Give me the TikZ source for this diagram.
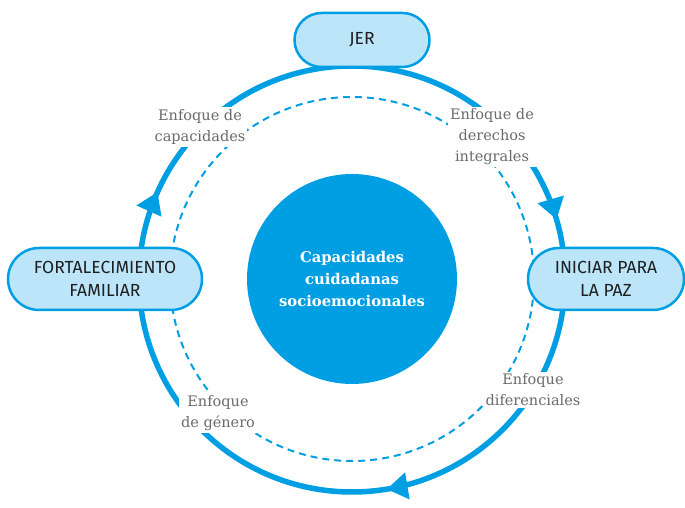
\documentclass[tikz,border=0pt]{standalone}
\usepackage{fontspec}
\setmainfont{DejaVu Serif}
\setsansfont{Fira Sans}
\usepackage{tikz}
\usetikzlibrary{arrows.meta,decorations.markings,shapes.misc}

\definecolor{cicloazul}{HTML}{009FE3}
\definecolor{cajaazul}{HTML}{BDE5FA}
\definecolor{grisenfoque}{HTML}{6A6A6A}

\begin{document}
\begin{tikzpicture}[x=1pt,y=1pt,
    caja/.style={rounded rectangle, draw=cicloazul, line width=2.5pt, fill=cajaazul,
      text=black!88, align=center, font=\sffamily\fontsize{17.5}{23}\selectfont,
      inner sep=0pt},
    enfoque/.style={fill=white, text=grisenfoque, align=center, inner sep=2pt,
      font=\fontsize{14.5}{21}\selectfont},
    ciclo/.style={draw=cicloazul, line width=5.5pt},
    guia/.style={draw=cicloazul, line width=2pt, dash pattern=on 7pt off 5pt}]
\useasboundingbox (0,0) rectangle (685,508);
\coordinate (centro) at (352,229);
  % anillo de flechas, sentido horario
  \draw[ciclo, postaction={decorate}, decoration={markings,
      mark=at position 0.205 with {\arrow{Triangle[length=21pt,width=26pt]}},
      mark=at position 0.474 with {\arrow{Triangle[length=21pt,width=26pt]}},
      mark=at position 0.817 with {\arrow{Triangle[length=21pt,width=26pt]}}}]
    (centro) ++(90:213) arc[start angle=90, end angle=-270, radius=213];
  \draw[guia] (centro) circle[radius=182];
  \fill[cicloazul] (centro) circle[radius=105];
  \node[text=white, align=center, font=\bfseries\fontsize{14.8}{22}\selectfont] (nucleo) at (centro)
    {Capacidades\\cuidadanas\\socioemocionales};
  % enfoques
  \node[enfoque] (capacidades) at (200,381) {Enfoque de\\capacidades};
  \node[enfoque] (derechos) at (492,371) {Enfoque de\\derechos\\integrales};
  \node[enfoque] (diferenciales) at (533,118) {Enfoque\\diferenciales};
  \node[enfoque] (genero) at (218,95) {Enfoque\\de género};
  % cajas
  \node[caja, minimum width=135pt, minimum height=54pt] (jer) at (362,468) {JER};
  \node[caja, minimum width=194pt, minimum height=62pt] (familiar) at (105,229)
    {FORTALECIMIENTO\\FAMILIAR};
  \node[caja, minimum width=156pt, minimum height=62pt] (paz) at (606,229)
    {INICIAR PARA\\LA PAZ};
\end{tikzpicture}
\end{document}
